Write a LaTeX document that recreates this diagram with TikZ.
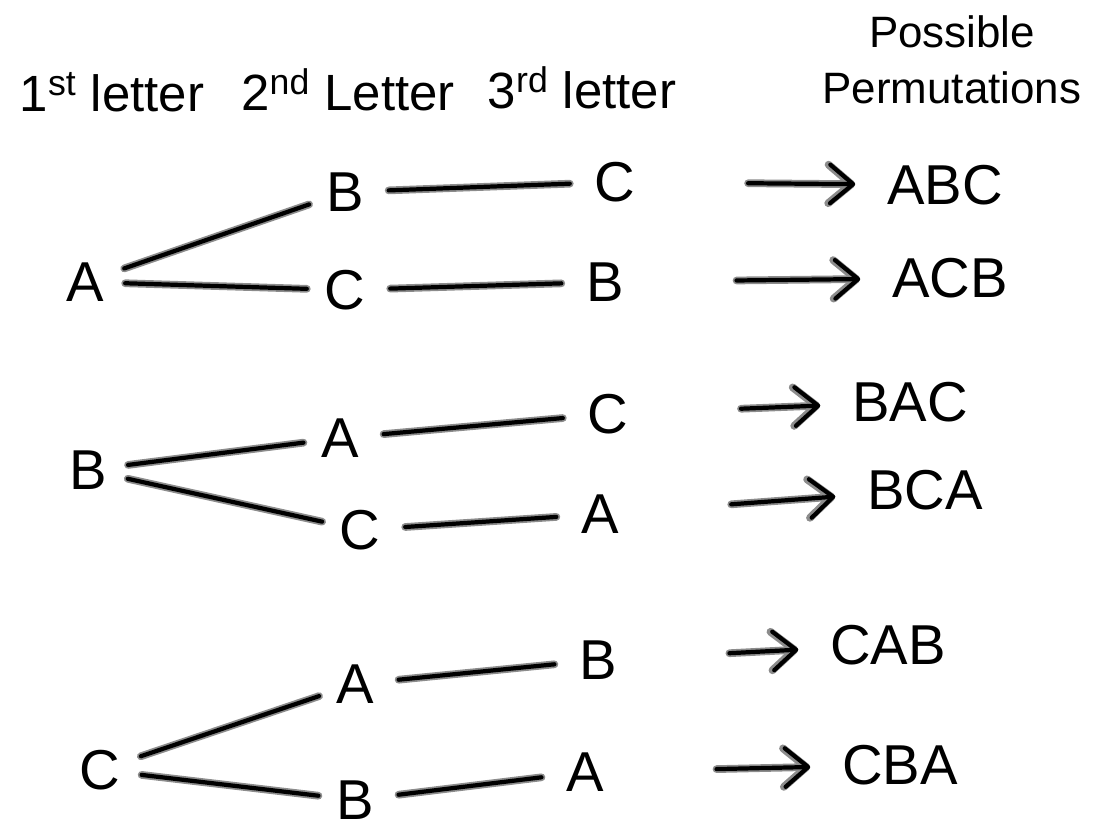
\documentclass[tikz,border=0pt]{standalone}
\usepackage{fontspec}
\setsansfont{Liberation Sans}
\usetikzlibrary{arrows.meta}
\definecolor{inkhalo}{rgb}{0.55,0.55,0.55}

\begin{document}
\begin{tikzpicture}[x=0.02cm, y=-0.02cm, font=\sffamily]
  \tikzset{let/.style={inner sep=2pt, font=\sffamily\fontsize{32}{36}\selectfont}};
  \tikzset{head/.style={inner sep=0pt, align=center, font=\sffamily\fontsize{29}{31}\selectfont}};
  \tikzset{ink/.style={line width=2.4pt, black, line cap=round, preaction={draw, inkhalo, line width=4.4pt, line cap=round}}};
  \tikzset{branch/.style={ink, shorten <=10pt, shorten >=8pt}};
  \tikzset{link/.style={ink, shorten <=12pt, shorten >=12pt}};
  \tikzset{res/.style={ink, -{Straight Barb[angle=80:6mm, round]}, shorten <=62pt, shorten >=16pt}};

  \useasboundingbox (0,0) rectangle (1101,839);

  % column headings
  \node[head] (h1) at (112,92) {1\textsuperscript{st} letter};
  \node[head] (h2) at (348,90) {2\textsuperscript{nd} Letter};
  \node[head] (h3) at (582,88) {3\textsuperscript{rd} letter};
  \node[head, font=\sffamily\fontsize{25}{32}\selectfont] (h4) at (952,60) {Possible\\Permutations};

  % A
  \node[let] (a) at (85,282) {A};
  \node[let] (ab) at (345,192) {B};
  \node[let] (ac) at (345,290) {C};
  \node[let] (abc) at (615,182) {C};
  \node[let] (acb) at (605,282) {B};
  \node[let] (pabc) at (945,185) {ABC};
  \node[let] (pacb) at (950,278) {ACB};

  % B
  \node[let] (b) at (88,470) {B};
  \node[let] (ba) at (340,438) {A};
  \node[let] (bc) at (360,530) {C};
  \node[let] (bac) at (608,414) {C};
  \node[let] (bca) at (600,514) {A};
  \node[let] (pbac) at (910,402) {BAC};
  \node[let] (pbca) at (925,490) {BCA};

  % C
  \node[let] (c) at (100,770) {C};
  \node[let] (ca) at (355,684) {A};
  \node[let] (cb) at (355,800) {B};
  \node[let] (cab) at (598,660) {B};
  \node[let] (cba) at (585,772) {A};
  \node[let] (pcab) at (888,645) {CAB};
  \node[let] (pcba) at (900,765) {CBA};

  \draw[branch] (a) -- (ab);
  \draw[branch] (a) -- (ac);
  \draw[link] (ab) -- (abc);
  \draw[link] (ac) -- (acb);
  \draw[res] (abc) -- (pabc);
  \draw[res] (acb) -- (pacb);

  \draw[branch] (b) -- (ba);
  \draw[branch] (b) -- (bc);
  \draw[link] (ba) -- (bac);
  \draw[link] (bc) -- (bca);
  \draw[res] (bac) -- (pbac);
  \draw[res] (bca) -- (pbca);

  \draw[branch] (c) -- (ca);
  \draw[branch] (c) -- (cb);
  \draw[link] (ca) -- (cab);
  \draw[link] (cb) -- (cba);
  \draw[res] (cab) -- (pcab);
  \draw[res] (cba) -- (pcba);
\end{tikzpicture}
\end{document}
